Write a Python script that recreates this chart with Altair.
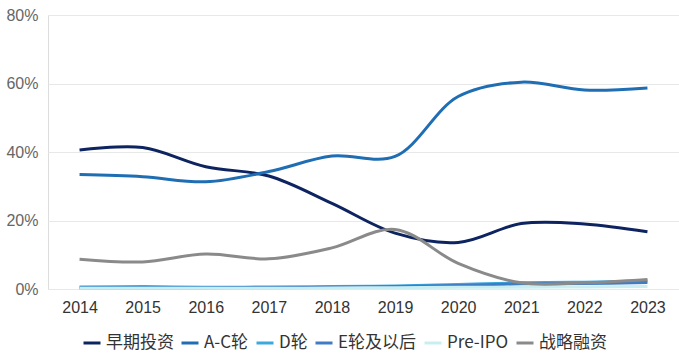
import altair as alt
import pandas as pd

years = [str(y) for y in range(2014, 2024)]
series_names = ["早期投资", "A-C轮", "D轮", "E轮及以后", "Pre-IPO", "战略融资"]
colors = ["#0d2461", "#1f6db3", "#3ba9e0", "#3f7cc4", "#c8eef2", "#8a8a8a"]

early = [40.6, 41.3, 35.7, 33.0, 25.0, 16.3, 13.6, 19.1, 19.0, 16.7]
ac = [33.4, 32.8, 31.3, 34.3, 38.8, 38.7, 56.2, 60.4, 58.1, 58.7]
d_round = [0.6, 0.7, 0.5, 0.6, 0.7, 0.9, 1.3, 1.8, 2.0, 2.4]
e_round = [0.3, 0.3, 0.3, 0.4, 0.5, 0.7, 1.0, 1.5, 1.6, 1.9]
pre_ipo = [0.2, 0.2, 0.2, 0.2, 0.3, 0.4, 0.5, 0.5, 0.6, 0.7]
strategic = [8.7, 7.9, 10.2, 8.8, 12.0, 17.4, 7.5, 1.8, 1.8, 2.8]

all_vals = [early, ac, d_round, e_round, pre_ipo, strategic]
rows = []
for i, (name, vals) in enumerate(zip(series_names, all_vals)):
    for y, v in zip(years, vals):
        rows.append({"year": y, "series": name, "value": v / 100, "order": i})
df = pd.DataFrame(rows)

chart = alt.Chart(df).mark_line(strokeWidth=3, interpolate="catmull-rom").encode(
    x=alt.X("year:O", scale=alt.Scale(type="point", padding=0.5),
            axis=alt.Axis(title=None, labelAngle=0, ticks=False, domain=False,
                          labelFontSize=16, labelColor="#333333", labelPadding=10,
                          labelFont="Liberation Sans")),
    y=alt.Y("value:Q", scale=alt.Scale(domain=[0, 0.8]),
            axis=alt.Axis(title=None, format=".0%", values=[0, 0.2, 0.4, 0.6, 0.8],
                          ticks=False, domain=False, labelFontSize=16,
                          labelColor="#666666", labelPadding=10,
                          labelFont="Liberation Sans",
                          gridColor="#e8e8e8", gridWidth=1)),
    color=alt.Color("series:N", sort=series_names,
                    scale=alt.Scale(domain=series_names, range=colors),
                    legend=alt.Legend(title=None, orient="none", direction="horizontal",
                                      legendX=34, legendY=318,
                                      symbolType="stroke", symbolSize=289,
                                      symbolStrokeWidth=3, labelFontSize=17,
                                      labelColor="#333333", labelOffset=4,
                                      columnPadding=1, labelFont="Noto Sans CJK SC")),
    order=alt.Order("order:Q"),
).properties(
    width=631, height=274,
    padding={"left": 48, "top": 15, "right": 0, "bottom": 68},
    autosize=alt.AutoSizeParams(type="none"),
).configure_view(stroke=None).configure(background="white")

chart.save("out.html", embed_options={"renderer": "svg", "actions": False})
